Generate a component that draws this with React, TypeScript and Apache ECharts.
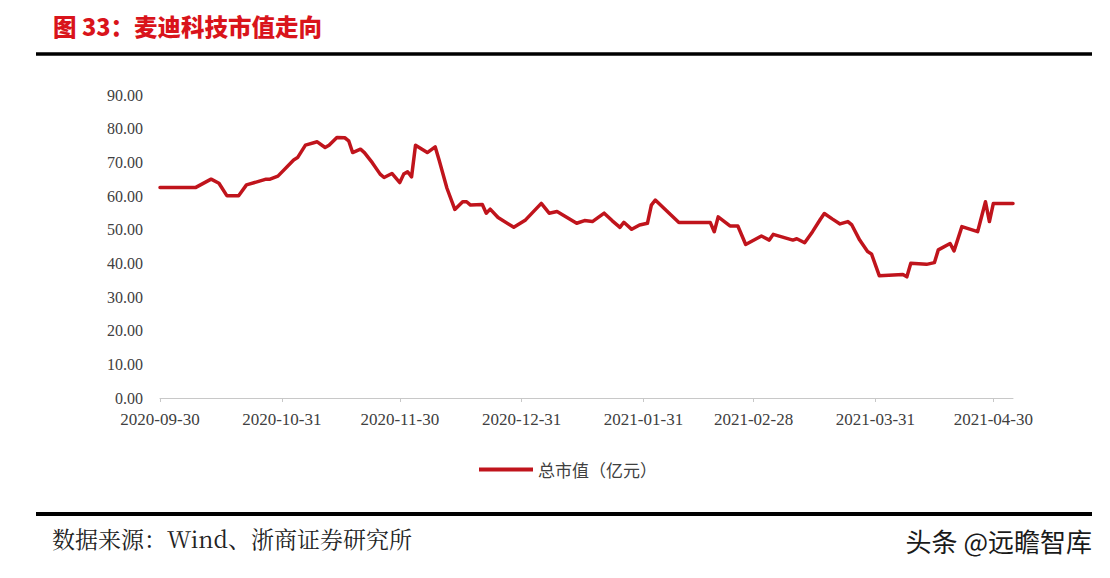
import React, { useEffect, useRef } from "react";
import * as echarts from "echarts";

const dates: string[] = [
  "2020-09-30", "2020-10-09", "2020-10-13", "2020-10-15", "2020-10-17", "2020-10-20", "2020-10-22",
  "2020-10-27", "2020-10-28", "2020-10-30", "2020-11-03", "2020-11-04", "2020-11-06", "2020-11-09",
  "2020-11-11", "2020-11-12", "2020-11-14", "2020-11-16", "2020-11-17", "2020-11-18", "2020-11-20",
  "2020-11-21", "2020-11-23", "2020-11-25", "2020-11-26", "2020-11-28", "2020-11-30", "2020-12-01",
  "2020-12-02", "2020-12-03", "2020-12-04", "2020-12-07", "2020-12-09", "2020-12-10", "2020-12-12",
  "2020-12-14", "2020-12-16", "2020-12-17", "2020-12-18", "2020-12-21", "2020-12-22", "2020-12-23",
  "2020-12-25", "2020-12-29", "2021-01-01", "2021-01-05", "2021-01-07", "2021-01-09", "2021-01-14",
  "2021-01-16", "2021-01-18", "2021-01-21", "2021-01-23", "2021-01-25", "2021-01-26", "2021-01-28",
  "2021-01-30", "2021-02-01", "2021-02-02", "2021-02-03", "2021-02-09", "2021-02-17", "2021-02-18",
  "2021-02-19", "2021-02-22", "2021-02-24", "2021-02-26", "2021-03-02", "2021-03-04", "2021-03-05",
  "2021-03-10", "2021-03-11", "2021-03-13", "2021-03-15", "2021-03-17", "2021-03-18", "2021-03-20",
  "2021-03-22", "2021-03-24", "2021-03-25", "2021-03-27", "2021-03-29", "2021-03-30", "2021-04-01",
  "2021-04-07", "2021-04-08", "2021-04-09", "2021-04-13", "2021-04-15", "2021-04-16", "2021-04-19",
  "2021-04-20", "2021-04-22", "2021-04-26", "2021-04-28", "2021-04-29", "2021-04-30", "2021-05-05",
];

const marketCap: number[] = [
  62.5, 62.5, 65.0, 63.8, 60.1, 60.1, 63.3,
  65.0, 65.0, 65.9, 70.7, 71.4, 75.1, 76.1,
  74.4, 75.1, 77.4, 77.3, 76.4, 72.9, 73.9,
  72.9, 69.9, 66.5, 65.5, 66.7, 64.0, 66.5,
  67.2, 65.7, 75.1, 72.9, 74.6, 70.7, 62.3,
  56.0, 58.3, 58.3, 57.3, 57.5, 54.9, 56.1,
  53.6, 50.7, 52.9, 57.8, 54.9, 55.4, 51.9,
  52.7, 52.4, 54.9, 52.7, 50.7, 52.2, 50.1,
  51.4, 51.9, 57.3, 58.8, 52.1, 52.1, 49.4,
  53.8, 51.1, 51.1, 45.6, 48.1, 46.9, 48.6,
  46.9, 47.3, 46.1, 49.4, 53.1, 54.8, 53.2,
  51.7, 52.4, 51.4, 46.9, 43.5, 42.8, 36.3,
  36.7, 36.0, 40.0, 39.7, 40.2, 44.0, 45.9,
  43.7, 50.9, 49.4, 58.3, 52.4, 57.8, 57.8,
];

const tickDates: string[] = [
  "2020-09-30", "2020-10-31", "2020-11-30", "2020-12-31",
  "2021-01-31", "2021-02-28", "2021-03-31", "2021-04-30",
];

const startDate = "2020-09-30";
const endDate = "2021-05-05";

const seriesName = "总市值（亿元）";
const titleText = "图 33：麦迪科技市值走向";
const sourceText = "数据来源：Wind、浙商证券研究所";
const watermarkText = "头条 @远瞻智库";

const DAY = 86400000;
const dayOf = (d: string) => Math.round((Date.parse(d) - Date.parse(startDate)) / DAY);
const dateOf = (v: number) =>
  new Date(Date.parse(startDate) + Math.round(v) * DAY).toISOString().slice(0, 10);

export default function App() {
  const ref = useRef<HTMLDivElement>(null);

  useEffect(() => {
    if (!ref.current) return;
    const chart = echarts.init(ref.current, null, { renderer: "svg" });
    const tickDays = tickDates.map(dayOf);
    const serif = "'Liberation Serif', 'Times New Roman', serif";
    chart.setOption({
      animation: false,
      backgroundColor: "#ffffff",
      grid: { left: 160, right: 97, top: 95, bottom: 180, containLabel: false },
      xAxis: {
        type: "value",
        min: 0,
        max: dayOf(endDate),
        axisLine: { show: true, lineStyle: { color: "#c8c8c8", width: 1 } },
        axisTick: {
          show: true,
          customValues: tickDays,
          length: 4,
          lineStyle: { color: "#c8c8c8" },
        },
        axisLabel: {
          customValues: tickDays,
          formatter: (v: number) => dateOf(v),
          color: "#404040",
          fontFamily: serif,
          fontSize: 17,
          margin: 13,
        },
        splitLine: { show: false },
      },
      yAxis: {
        type: "value",
        min: 0,
        max: 90,
        interval: 10,
        axisLine: { show: false },
        axisTick: { show: false },
        splitLine: { show: false },
        axisLabel: {
          formatter: (v: number) => v.toFixed(2),
          color: "#404040",
          fontFamily: serif,
          fontSize: 16,
          margin: 17,
        },
      },
      legend: {
        show: true,
        left: 474,
        top: 456,
        itemWidth: 54,
        itemHeight: 4,
        itemGap: 7,
        icon: "rect",
        textStyle: {
          color: "#404040",
          fontSize: 17,
          fontFamily: "'Noto Sans CJK SC', sans-serif",
        },
        data: [seriesName],
      },
      series: [
        {
          name: seriesName,
          type: "line",
          showSymbol: false,
          symbol: "none",
          data: dates.map((d, i) => [dayOf(d), marketCap[i]]),
          lineStyle: { color: "#c0141c", width: 3.5, join: "round", cap: "round" },
          itemStyle: { color: "#c0141c" },
        },
      ],
      graphic: [
        {
          type: "text",
          left: 53,
          top: 14,
          style: {
            text: titleText,
            fill: "#d9141b",
            font: "900 23.5px 'Noto Sans CJK SC', sans-serif",
          },
        },
        {
          type: "line",
          shape: { x1: 36, y1: 54, x2: 1092, y2: 54 },
          style: { stroke: "#000000", lineWidth: 3.5 },
        },
        {
          type: "line",
          shape: { x1: 36, y1: 514, x2: 1092, y2: 514 },
          style: { stroke: "#000000", lineWidth: 4 },
        },
        {
          type: "text",
          left: 52,
          top: 527,
          style: {
            text: sourceText,
            fill: "#222222",
            font: "23px 'Noto Serif CJK SC', 'Noto Sans CJK SC', serif",
          },
        },
        {
          type: "text",
          right: 18,
          top: 527,
          style: {
            text: watermarkText,
            fill: "#1a1a1a",
            font: "26px 'Noto Sans CJK SC', sans-serif",
          },
        },
      ],
    });
    return () => chart.dispose();
  }, []);

  return (
    <div
      ref={ref}
      style={{ position: "fixed", left: 0, top: 0, width: 1110, height: 578, background: "#fff" }}
    />
  );
}
